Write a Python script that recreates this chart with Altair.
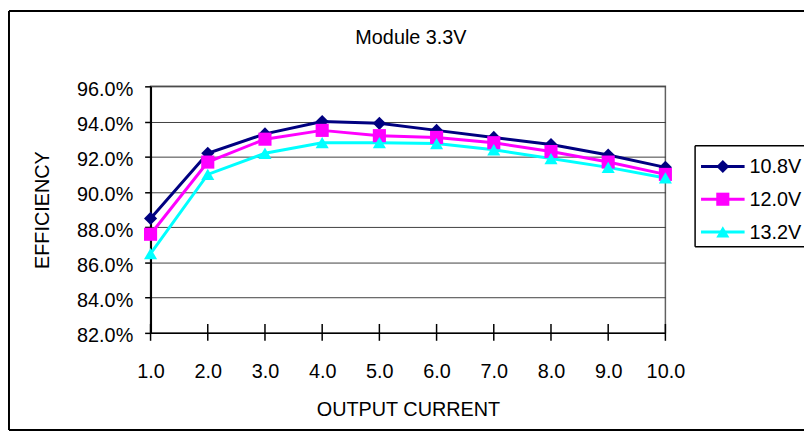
import altair as alt
import pandas as pd

# ---- data ----
currents = [1.0, 2.0, 3.0, 4.0, 5.0, 6.0, 7.0, 8.0, 9.0, 10.0]
series_names = ["10.8V", "12.0V", "13.2V"]
eff_108 = [88.5, 92.2, 93.3, 94.0, 93.9, 93.5, 93.1, 92.7, 92.1, 91.4]
eff_120 = [87.6, 91.7, 93.0, 93.5, 93.2, 93.1, 92.8, 92.3, 91.7, 91.0]
eff_132 = [86.5, 91.0, 92.2, 92.8, 92.8, 92.75, 92.4, 91.9, 91.4, 90.8]
y_ticks = [82.0, 84.0, 86.0, 88.0, 90.0, 92.0, 94.0, 96.0]
title_text = "Module 3.3V"
x_title = "OUTPUT CURRENT"
y_title = "EFFICIENCY"

colors = ["#000080", "#FF00FF", "#00FFFF"]
shapes = ["diamond", "square", "triangle-up"]

rows = []
for name, vals in zip(series_names, [eff_108, eff_120, eff_132]):
    for c, v in zip(currents, vals):
        rows.append({"series": name, "current": c, "eff": v / 100.0})
df = pd.DataFrame(rows)
tick_df = pd.DataFrame({"current": currents})
one = pd.DataFrame({"k": [0]})

FONT = "Liberation Sans"
FS = 20
W, H = 520, 249

color_scale = alt.Scale(domain=series_names, range=colors)
shape_scale = alt.Scale(domain=series_names, range=shapes)

x_enc = alt.X(
    "current:Q",
    scale=alt.Scale(domain=[1, 10], nice=False, zero=False),
    axis=alt.Axis(
        values=currents, tickCount=20, format=".1f", title=x_title, grid=False, ticks=False,
        domainColor="black", domainWidth=1.5, labelFont=FONT, labelFontSize=FS,
        labelColor="black", labelPadding=29, labelFlush=False, labelOverlap=False,
        titleFont=FONT, titleFontSize=FS,
        titleFontWeight="normal", titleColor="black", titlePadding=18,
    ),
)
y_enc = alt.Y(
    "eff:Q",
    scale=alt.Scale(domain=[0.82, 0.96], nice=False, zero=False),
    axis=alt.Axis(
        values=[v / 100.0 for v in y_ticks], tickCount=20, format=".1%", title=y_title,
        grid=True, gridColor="#404040", gridWidth=1,
        tickSize=6, tickColor="black", tickWidth=1.5,
        domainColor="black", domainWidth=2,
        labelFont=FONT, labelFontSize=FS, labelColor="black", labelPadding=12,
        labelOffset=3, labelOverlap=False, labelFlush=False,
        titleFont=FONT, titleFontSize=FS, titleFontWeight="normal", titleColor="black",
        titleX=-109, titleY=H / 2, titleAngle=-90, titleAlign="center", titleBaseline="middle",
    ),
)

base = alt.Chart(df)
lines = base.mark_line(strokeWidth=3).encode(
    x=x_enc, y=y_enc,
    color=alt.Color("series:N", scale=color_scale, legend=None),
    detail="series:N",
)
points = base.mark_point(filled=True, opacity=1, size=175).encode(
    x="current:Q", y="eff:Q",
    color=alt.Color("series:N", scale=color_scale, legend=None),
    shape=alt.Shape("series:N", scale=shape_scale, legend=None),
)

xticks = alt.Chart(tick_df).mark_rule(color="black", strokeWidth=1.5).encode(
    x="current:Q", y=alt.value(H - 9), y2=alt.value(H + 8)
)

title = alt.Chart(one).mark_text(
    font=FONT, fontSize=FS, color="black", align="center", baseline="alphabetic"
).encode(x=alt.value(263), y=alt.value(-43), text=alt.value(title_text))


def hline(x1, x2, y, w):
    return alt.Chart(one).mark_rule(color="black", strokeWidth=w).encode(
        x=alt.value(x1), x2=alt.value(x2), y=alt.value(y)
    )


def vline(x, y1, y2, w):
    return alt.Chart(one).mark_rule(color="black", strokeWidth=w).encode(
        x=alt.value(x), y=alt.value(y1), y2=alt.value(y2)
    )


# outer chart frame (right side lies beyond the visible area)
frame = [
    vline(-143, -76, 347, 2),
    hline(-143, 700, -76, 2),
    hline(-143, 700, 347, 2),
]
# legend frame
legend_frame = [
    vline(550, 60, 162, 1.5),
    hline(550, 700, 60, 1.5),
    hline(550, 700, 162, 1.5),
]

legend_layers = []
row_y = [81, 114, 147]
for name, col, shp, ry in zip(series_names, colors, shapes, row_y):
    legend_layers.append(
        alt.Chart(one).mark_rule(color=col, strokeWidth=3).encode(
            x=alt.value(556), x2=alt.value(600), y=alt.value(ry)
        )
    )
    legend_layers.append(
        alt.Chart(one).mark_point(filled=True, opacity=1, size=175, shape=shp, color=col).encode(
            x=alt.value(578), y=alt.value(ry)
        )
    )
    legend_layers.append(
        alt.Chart(one).mark_text(
            font=FONT, fontSize=FS, color="black", align="left", baseline="middle"
        ).encode(x=alt.value(605), y=alt.value(ry + 1), text=alt.value(name))
    )

chart = alt.layer(
    lines, points, xticks, title, *frame, *legend_frame, *legend_layers
).properties(
    width=W, height=H,
    autosize=alt.AutoSizeParams(type="none"),
    padding={"left": 144, "top": 77, "right": 140, "bottom": 100},
    background="white",
).configure_view(stroke="#606060", strokeWidth=1.5)

chart.save("out.html", embed_options={"renderer": "svg", "actions": False})
